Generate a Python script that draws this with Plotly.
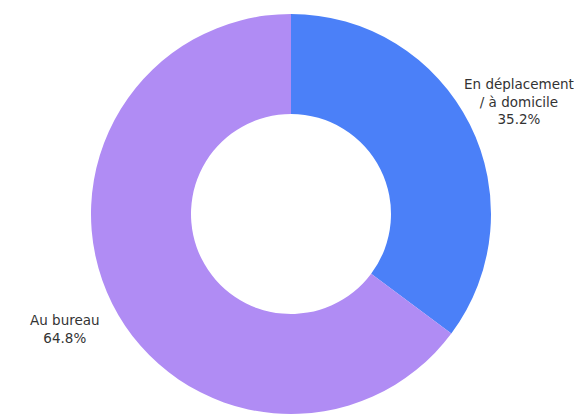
import plotly.graph_objects as go

labels = ["En déplacement<br>/ à domicile", "Au bureau"]
values = [35.2, 64.8]
colors = ["#4B80F8", "#B08CF4"]

# label placement (paper coords) — style only
label_pos = [(0.902, 0.78, "center"), (0.101, 0.213, "center")]

total = sum(values)
fig = go.Figure(go.Pie(
    labels=labels,
    values=values,
    hole=0.5,
    sort=False,
    direction="clockwise",
    rotation=0,
    marker=dict(colors=colors, line=dict(width=0)),
    textinfo="none",
    hoverinfo="label+percent",
    showlegend=False,
))
for lab, val, (x, y, al) in zip(labels, values, label_pos):
    fig.add_annotation(
        x=x, y=y, xref="paper", yref="paper",
        text=f"{lab}<br>{val / total * 100:.1f}%",
        showarrow=False, align=al, xanchor="center", yanchor="middle",
        font=dict(family="DejaVu Sans, sans-serif", size=13.5, color="#333333"),
    )
fig.update_layout(
    width=582, height=415,
    margin=dict(l=0, r=16, t=6, b=9),
    paper_bgcolor="white",
    plot_bgcolor="white",
)
fig.write_html("out.html")
